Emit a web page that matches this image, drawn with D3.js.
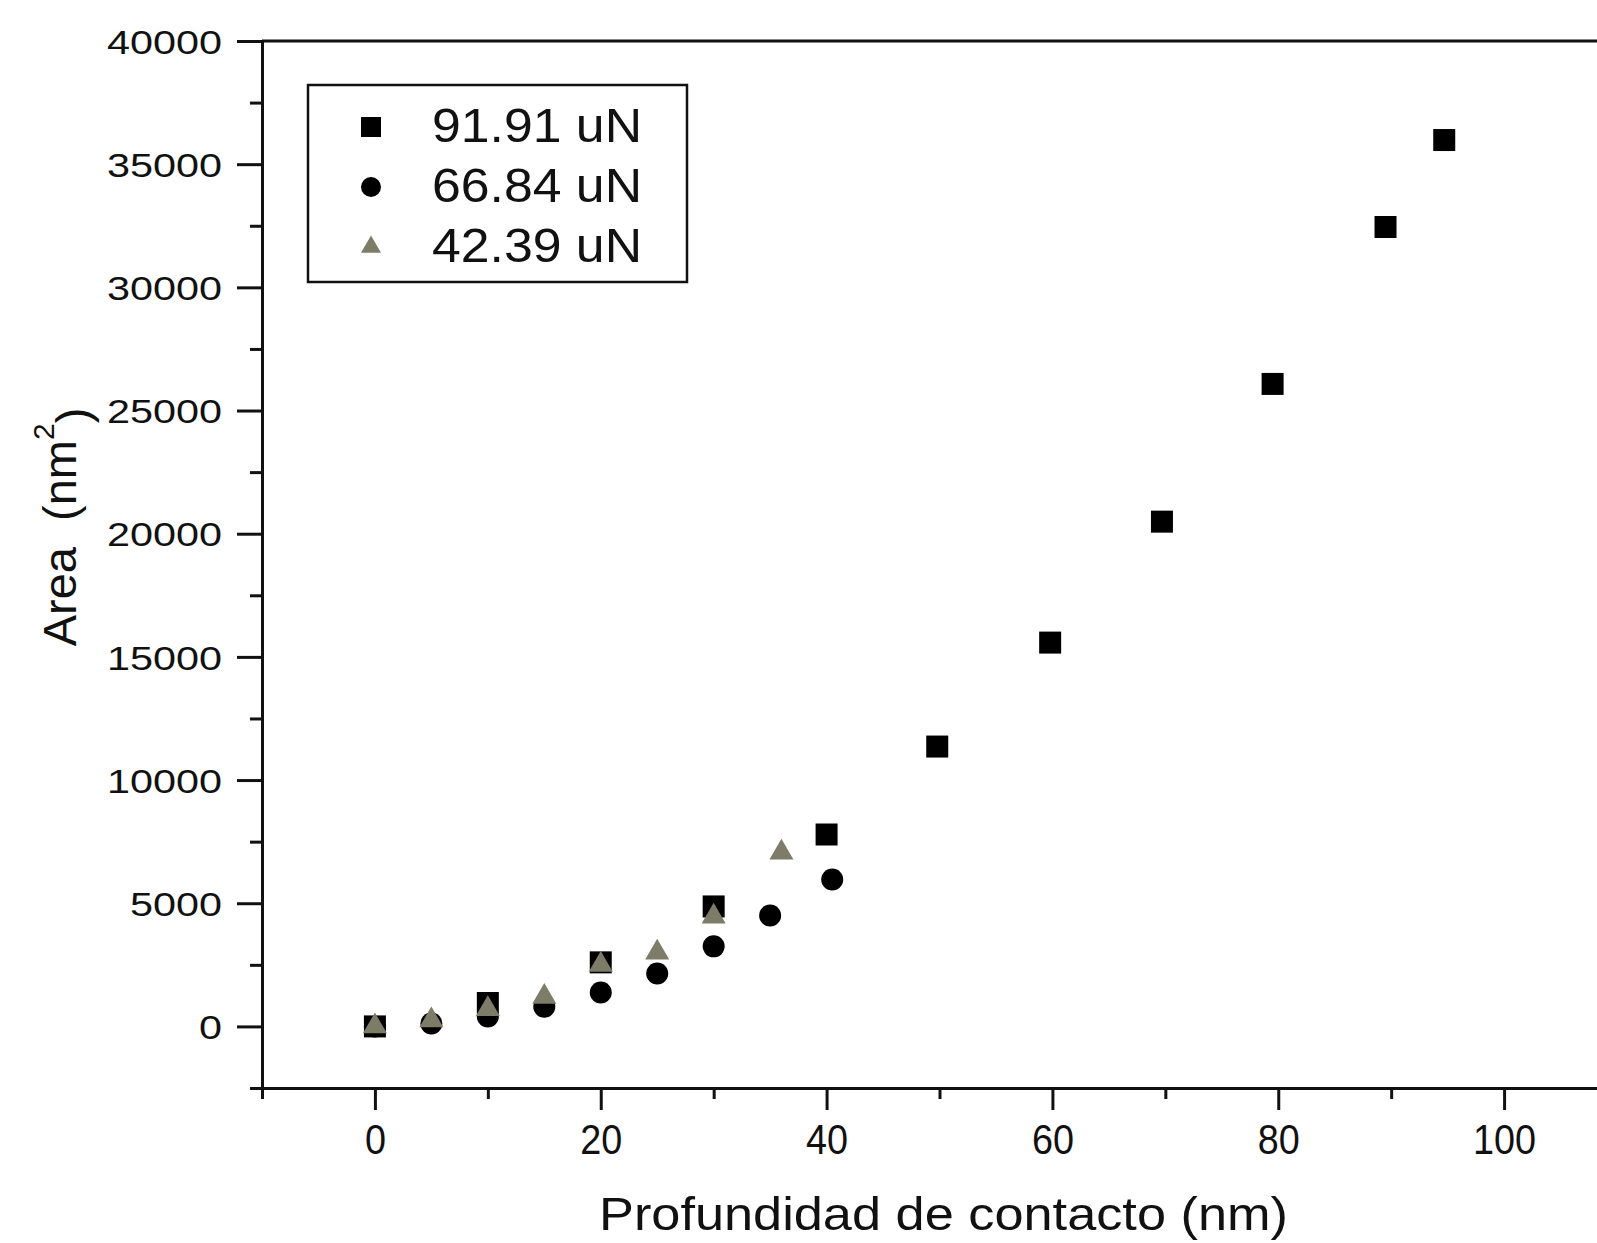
<!DOCTYPE html>
<html>
<head>
<meta charset="utf-8">
<script src="https://cdn.jsdelivr.net/npm/d3@7"></script>
<style>
  html, body { margin: 0; padding: 0; background: #fff; overflow: hidden; }
  svg { display: block; font-family: "Liberation Sans", Arial, sans-serif; }
</style>
</head>
<body>
<svg id="chart" width="1597" height="1243"></svg>
<script>
// ---- data ----
const seriesNames = ["91.91 uN", "66.84 uN", "42.39 uN"];
const sqX = [0, 10, 20, 30, 40, 49.8, 59.8, 69.7, 79.5, 89.5, 94.7];
const sqY = [0, 950, 2600, 4870, 7790, 11360, 15580, 20490, 26080, 32450, 35980];
const ciX = [0, 5, 10, 15, 20, 25, 30, 35, 40.5];
const ciY = [0, 120, 400, 800, 1380, 2150, 3250, 4500, 5960];
const trX = [0, 5, 10, 15, 20, 25, 30, 36];
const trY = [0, 250, 700, 1200, 2500, 3000, 4460, 7060];
const xMajorTicks = [0, 20, 40, 60, 80, 100];
const xMinorTicks = [-10, 10, 30, 50, 70, 90, 110];
const yMajorTicks = [0, 5000, 10000, 15000, 20000, 25000, 30000, 35000, 40000];
const yMinorTicks = [-2500, 2500, 7500, 12500, 17500, 22500, 27500, 32500, 37500];
const xTitle = "Profundidad de contacto (nm)";

(function () {
// ---- layout ----
const svg = d3.select("#chart");
const pLeft = 262, pRight = 1617, pTop = 41, pBottom = 1088;
const x = d3.scaleLinear().domain([-10, 110]).range([pLeft, pRight]);
const y = d3.scaleLinear().domain([-2500, 40000]).range([pBottom, pTop]);
const lw = 3;

// frame
svg.append("line").attr("x1", pLeft).attr("x2", pRight).attr("y1", pTop).attr("y2", pTop)
  .attr("stroke", "#111").attr("stroke-width", lw);
svg.append("line").attr("x1", pRight).attr("x2", pRight).attr("y1", pTop).attr("y2", pBottom)
  .attr("stroke", "#111").attr("stroke-width", lw);

// x axis
const gx = svg.append("g").attr("transform", `translate(0,${pBottom})`);
gx.call(d3.axisBottom(x).tickValues(xMajorTicks).tickSize(22).tickSizeOuter(0).tickPadding(14).tickFormat(d3.format("d")));
const gxm = svg.append("g").attr("transform", `translate(0,${pBottom})`);
gxm.call(d3.axisBottom(x).tickValues(xMinorTicks).tickSize(11).tickSizeOuter(0).tickFormat(""));
[gx, gxm].forEach(g => {
  g.select(".domain").attr("stroke", "#111").attr("stroke-width", lw);
  g.selectAll(".tick line").attr("stroke", "#111").attr("stroke-width", lw);
});
gx.selectAll(".tick text")
  .attr("fill", "#111")
  .style("font-size", "42px")
  .attr("dy", "0.71em")
  .attr("textLength", d => String(d).length * 21)
  .attr("lengthAdjust", "spacingAndGlyphs");

// y axis
const gy = svg.append("g").attr("transform", `translate(${pLeft},0)`);
gy.call(d3.axisLeft(y).tickValues(yMajorTicks).tickSize(25).tickSizeOuter(0).tickPadding(15).tickFormat(d3.format("d")));
const gym = svg.append("g").attr("transform", `translate(${pLeft},0)`);
gym.call(d3.axisLeft(y).tickValues(yMinorTicks).tickSize(12).tickSizeOuter(0).tickFormat(""));
[gy, gym].forEach(g => {
  g.select(".domain").attr("stroke", "#111").attr("stroke-width", lw);
  g.selectAll(".tick line").attr("stroke", "#111").attr("stroke-width", lw);
});
gy.selectAll(".tick text")
  .attr("fill", "#111")
  .style("font-size", "34px")
  .attr("dy", "0.36em")
  .attr("textLength", d => String(d).length * 23)
  .attr("lengthAdjust", "spacingAndGlyphs");

// axis titles
svg.append("text")
  .attr("x", (599 + 1288) / 2).attr("y", 1230)
  .attr("text-anchor", "middle")
  .attr("fill", "#111")
  .style("font-size", "46px")
  .attr("textLength", 689).attr("lengthAdjust", "spacingAndGlyphs")
  .text(xTitle);

const yt = svg.append("text")
  .attr("transform", "translate(76,527) rotate(-90)")
  .attr("text-anchor", "middle")
  .attr("fill", "#111")
  .style("font-size", "47px")
  .style("white-space", "pre");
yt.append("tspan").text("Area  (nm");
yt.append("tspan").attr("dy", "-0.75em").style("font-size", "30px").text("2");
yt.append("tspan").attr("dy", "0.75em").text(")");

// markers
const sq = d3.symbol().type(d3.symbolSquare).size(22 * 22);
const ci = d3.symbol().type(d3.symbolCircle).size(Math.PI * 11 * 11);
const tr = d3.symbol().type(d3.symbolTriangle).size(Math.sqrt(3) / 4 * 24 * 24);
const triColor = "#7c7c68";

svg.append("g").selectAll("path").data(sqX.map((v, i) => [v, sqY[i]])).join("path")
  .attr("d", sq).attr("transform", d => `translate(${x(d[0])},${y(d[1])})`).attr("fill", "#000");
svg.append("g").selectAll("path").data(ciX.map((v, i) => [v, ciY[i]])).join("path")
  .attr("d", ci).attr("transform", d => `translate(${x(d[0])},${y(d[1])})`).attr("fill", "#000");
svg.append("g").selectAll("path").data(trX.map((v, i) => [v, trY[i]])).join("path")
  .attr("d", tr).attr("transform", d => `translate(${x(d[0])},${y(d[1])})`).attr("fill", triColor);

// legend
const lg = svg.append("g");
lg.append("rect").attr("x", 308).attr("y", 85).attr("width", 379).attr("height", 197)
  .attr("fill", "#fff").attr("stroke", "#111").attr("stroke-width", 2.5);
const legSyms = [
  d3.symbol().type(d3.symbolSquare).size(20 * 20),
  d3.symbol().type(d3.symbolCircle).size(Math.PI * 10 * 10),
  d3.symbol().type(d3.symbolTriangle).size(Math.sqrt(3) / 4 * 20 * 20)
];
const legCols = ["#000", "#000", triColor];
seriesNames.forEach((name, i) => {
  const cy = 127 + i * 60;
  lg.append("path").attr("d", legSyms[i]).attr("transform", `translate(371,${cy})`).attr("fill", legCols[i]);
  lg.append("text").attr("x", 432).attr("y", cy + 15)
    .attr("fill", "#111").style("font-size", "48px")
    .attr("textLength", 210).attr("lengthAdjust", "spacingAndGlyphs")
    .text(name);
});
})();
</script>
</body>
</html>
